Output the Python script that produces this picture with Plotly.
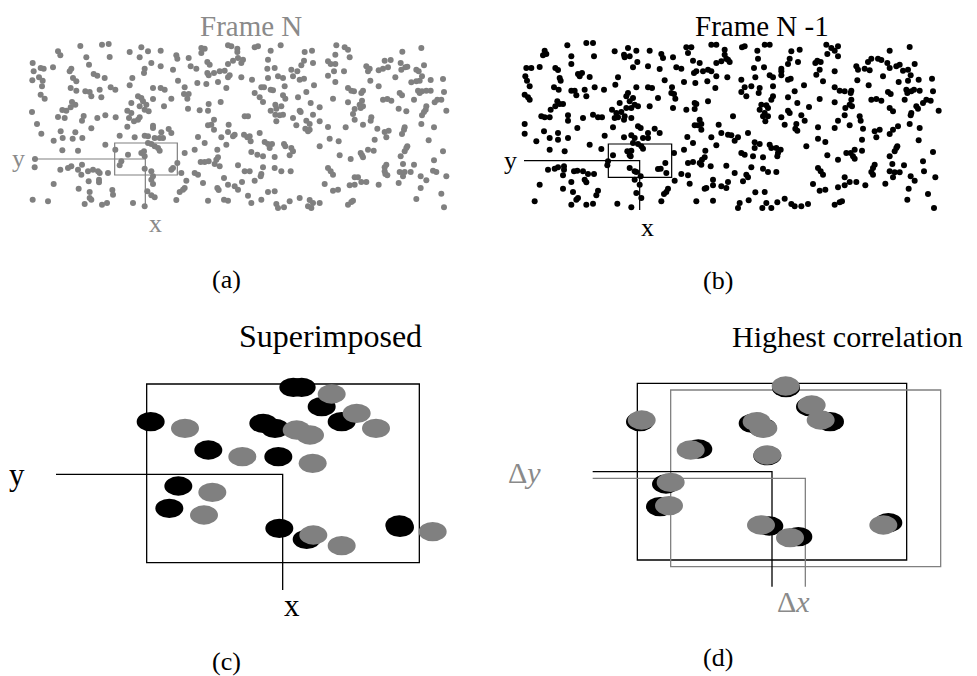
import plotly.graph_objects as go

# page body has an 8px margin; the figure is sized/placed to compensate
PAGE_OFF = 8
W, H = 977, 676
WF, HF = W - PAGE_OFF, H - PAGE_OFF

# ---------------- data: particle positions (frame units, 1 unit = 1/3 px) ----------------
frame_n = [
# strip 0
(157,24),(222,20),(242,18),(90,40),(97,52),(305,42),(175,58),(245,57),(14,75),(183,80),(38,90),(47,92),(17,100),(75,88),
(130,92),(125,100),(197,108),(208,113),(230,120),(33,118),(44,128),(13,127),(135,120),(145,130),(313,120),(42,145),
(128,150),(145,158),(172,160),(185,162),(190,175),(215,155),(248,148),(262,155),(305,142),(38,170),(50,182),(220,178),
(132,192),(142,200),(128,208),(115,218),(310,195),(12,222),(103,216),(298,218),(310,225),(90,237),(110,240),(167,234),
(162,248),(208,240),(232,232),(263,238),(303,240),(318,250),(27,258),(190,271),(298,266),(98,280),(142,283),(40,287),
(104,300),(134,302),(163,300),(77,308),(275,293),(320,298),(232,320),(103,337),(150,338),(262,335),(300,350),(21,363),
(280,370),(275,382),(20,388),(97,395),(120,390),(130,385),(162,380),(150,395),(160,410),(180,400),(195,395),(210,400),
(215,405),(240,405),(182,430),(213,425),(213,433),(77,438),(152,452),(185,462),(253,456),(255,470),(14,485),(60,490),
(185,480),(190,485),(170,498),(222,500),(237,495),(315,495),
# strip 1
(340,28),(360,40),(398,38),(445,52),(448,62),(482,60),(520,30),(530,32),(520,45),(600,22),(610,25),(628,32),(628,42),
(335,58),(370,75),(398,85),(435,95),(350,92),(348,105),(488,85),(505,92),(538,72),(545,80),(600,78),(615,68),(630,60),
(645,65),(640,75),(538,105),(542,112),(558,105),(575,100),(590,98),(605,112),(600,118),(640,118),(450,128),(470,148),
(508,135),(535,138),(570,132),(595,150),(375,150),(398,150),(410,155),(468,168),(482,168),(478,182),(330,175),(340,180),
(345,190),(355,200),(375,183),(430,182),(335,205),(350,215),(362,220),(408,205),(480,212),(515,217),(542,198),(540,218),
(578,192),(650,235),(335,238),(330,245),(375,263),(375,270),(558,245),(550,260),(540,262),(602,260),(558,275),(422,273),
(430,285),(400,283),(350,293),(360,295),(380,300),(395,300),(405,300),(510,297),(580,298),(600,282),(620,290),(615,295),
(648,290),(658,298),(360,315),(370,318),(380,325),(390,330),(395,338),(530,315),(595,320),(348,340),(340,345),(350,355),
(470,345),(500,335),(568,335),(570,358),(565,365),(448,375),(518,372),(530,372),(542,370),(560,378),(575,385),(630,382),
(350,392),(370,400),(435,390),(430,395),(460,405),(500,405),(510,410),(375,415),(370,425),(475,428),(525,435),(588,420),
(650,400),(375,438),(600,440),(620,445),(630,455),(568,450),(572,456),(642,432),(358,460),(370,472),(380,478),(455,462),
(465,455),(470,450),(445,486),(540,488),(588,485),(600,488),(350,505),
# strip 2
(680,28),(690,25),(728,38),(758,22),(720,65),(718,92),(740,90),(830,42),(852,38),(828,68),(855,75),(820,82),(790,95),
(808,100),(925,22),(950,28),(960,35),(965,58),(922,50),(900,70),(908,78),(922,78),(918,100),(948,100),(672,125),(720,120),
(750,115),(765,120),(795,115),(815,125),(828,122),(900,113),(922,132),(700,148),(708,148),(770,145),(858,142),(680,165),
(695,178),(728,155),(735,157),(765,172),(772,182),(810,178),(835,162),(960,150),(978,160),(970,158),(915,182),(960,193),
(980,213),(705,192),(742,200),(760,205),(745,212),(848,195),(875,208),(728,218),(742,230),(755,232),(765,230),(818,222),
(815,218),(855,230),(975,228),(980,245),(795,240),(745,250),(835,248),(845,258),(875,250),(805,262),(832,272),(845,275),
(840,280),(900,267),(953,268),(660,235),(695,285),(665,295),(668,310),(710,312),(720,318),(725,330),(732,318),(768,318),
(772,325),(790,330),(795,340),(785,352),(875,325),(905,302),(932,310),(670,342),(688,350),(705,355),(740,357),(935,352),
(968,363),(705,388),(740,390),(760,400),(788,400),(900,390),(908,400),(915,410),(665,400),(700,408),(698,415),(680,428),
(890,438),(980,418),(965,442),(980,440),(915,458),(930,455),(720,462),(740,460),(660,473),(700,485),(815,480),(845,486),
(855,495),(785,490),(745,498),(670,495),(750,510),(768,508),(840,505),(850,510),(875,495),(960,500),(970,492),(975,488),
# strip 3
(1123,41),(1180,30),(1070,68),(1088,66),(1118,75),(1015,85),(1025,92),(1020,100),(1052,97),(1065,92),(1080,88),(1120,95),
(1132,88),(1138,86),(1188,82),(1165,95),(1172,100),(1182,115),(1102,118),(1027,128),(1052,145),(1150,133),(1165,130),
(1175,128),(1208,126),(1245,123),(1005,158),(1000,165),(1002,188),(1170,158),(1182,160),(1195,158),(1208,158),(1175,165),
(1248,162),(1115,165),(1122,172),(1065,185),(1078,183),(1090,188),(1158,185),(1228,185),(1240,185),(1220,193),(995,200),
(1005,205),(998,210),(1112,212),(1135,220),(1195,205),(1193,215),(1188,222),(1182,232),(1255,218),(1030,238),(1028,248),
(1005,260),(1180,258),(1218,268),(1048,272),(1070,282),(1082,278),(1130,268),(1128,275),(1122,288),(1075,298),(1040,305),
(1202,307),(1138,325),(1135,330),(1130,340),(1020,335),(1037,338),(1002,352),(1005,358),(998,345),(1118,355),(1245,340),
(1218,367),(1075,380),(1070,388),(1125,378),(1158,380),(1070,400),(1072,408),(1078,412),(1115,402),(1130,402),(1148,402),
(1125,415),(1215,398),(1225,402),(1178,415),(1195,427),(1255,415),(1000,432),(1015,432),(1052,440),(1112,435),(1178,450),
(1240,467),(1165,483),(1248,508),(990,418),
]

frame_n_minus_1 = [
# strip 0
(148,22),(205,15),(225,15),(80,38),(85,48),(75,52),(160,55),(228,55),(290,40),(318,50),(320,58),(160,78),(25,90),(40,90),
(65,87),(112,90),(120,96),(22,115),(27,128),(180,108),(192,105),(185,115),(215,117),(125,120),(128,128),(300,118),(35,145),
(108,148),(122,155),(160,158),(170,158),(175,172),(200,155),(205,175),(230,148),(258,155),(292,140),(20,170),(30,178),
(35,185),(325,175),(118,190),(125,198),(112,205),(135,198),(98,215),(305,195),(282,215),(295,225),(310,222),(325,210),
(320,235),(20,258),(70,235),(80,238),(95,238),(150,232),(150,248),(195,240),(225,230),(240,238),(252,238),(290,240),
(300,238),(318,245),(285,268),(178,270),(20,287),(78,280),(120,285),(95,300),(120,305),(150,300),(55,310),(260,293),
(318,298),(215,320),(95,335),(140,340),(250,333),(285,352),(328,340),(270,370),(268,382),(90,395),(110,392),(120,388),
(138,385),(138,395),(168,400),(178,398),(195,400),(210,408),(228,408),(135,412),(200,425),(205,433),(160,432),(65,440),
(135,452),(240,458),(235,472),(165,462),(180,480),(175,485),(50,490),(160,500),(205,500),(225,497),(298,497),
# strip 1
(330,30),(355,38),(395,38),(430,48),(435,60),(465,58),(505,28),(520,28),(510,45),(580,20),(595,20),(620,35),(620,50),
(625,62),(335,55),(358,72),(345,88),(390,85),(425,93),(475,88),(490,92),(525,68),(545,75),(528,105),(535,100),(555,100),
(570,95),(580,100),(595,75),(610,70),(630,65),(635,72),(595,115),(628,118),(440,127),(462,148),(498,132),(532,135),
(568,130),(592,150),(355,148),(390,148),(402,150),(460,165),(468,168),(472,182),(330,165),(345,180),(350,200),(360,205),
(340,210),(335,190),(420,180),(395,205),(465,210),(505,215),(530,213),(530,195),(535,198),(570,190),(645,235),(340,240),
(360,265),(368,270),(410,272),(425,285),(390,285),(545,245),(550,258),(540,262),(530,262),(602,260),(550,275),(340,292),
(350,300),(375,300),(390,300),(345,315),(360,318),(370,325),(375,332),(508,297),(580,298),(610,285),(630,290),(640,292),
(650,308),(525,315),(595,322),(340,338),(335,352),(338,355),(468,345),(498,335),(562,338),(560,358),(552,365),(442,375),
(510,375),(525,372),(545,375),(550,380),(578,385),(625,383),(335,390),(350,400),(355,402),(420,393),(428,392),(445,405),
(368,415),(490,408),(510,412),(350,425),(470,428),(515,437),(585,425),(650,405),(365,440),(560,452),(565,450),(585,442),
(610,445),(625,450),(630,432),(355,465),(370,480),(450,452),(445,462),(438,468),(430,490),(535,490),(585,488),(340,508),
# strip 2
(672,28),(680,25),(718,38),(740,20),(755,20),(820,40),(845,35),(815,62),(810,78),(840,72),(720,62),(708,90),(738,88),
(790,92),(790,100),(755,112),(765,118),(790,112),(810,125),(818,122),(925,20),(940,30),(960,25),(950,38),(928,48),
(960,55),(898,68),(908,72),(892,75),(905,95),(950,100),(895,110),(915,130),(670,125),(712,118),(680,148),(700,145),
(725,150),(722,165),(765,145),(858,142),(670,162),(685,175),(765,175),(760,185),(830,160),(810,178),(950,148),(965,158),
(980,160),(905,183),(950,193),(982,210),(838,195),(730,200),(745,202),(750,210),(725,215),(873,207),(740,225),(735,235),
(750,235),(810,218),(815,225),(790,238),(850,232),(980,232),(742,250),(860,248),(960,248),(800,260),(835,258),(832,272),
(838,278),(900,268),(950,270),(690,285),(660,298),(710,313),(725,318),(710,330),(755,320),(760,330),(775,330),(788,335),
(780,345),(778,355),(865,325),(900,302),(922,312),(670,345),(680,350),(705,355),(735,358),(928,352),(960,365),(985,345),
(700,388),(735,392),(750,402),(775,402),(900,390),(908,400),(915,410),(685,410),(690,418),(675,430),(885,438),(980,418),
(960,448),(980,442),(905,458),(922,455),(712,463),(740,462),(692,487),(800,482),(665,495),(745,495),(778,493),(820,498),
(830,505),(850,505),(870,498),(733,510),(760,510),(950,500),(965,493),(972,490),(660,510),
# strip 3
(1115,38),(1175,27),(1060,62),(1080,62),(1090,66),(1050,72),(1015,85),(1020,95),(1040,92),(1055,97),(1108,75),(1115,90),
(1135,85),(1145,80),(1190,78),(1155,98),(1170,95),(1178,112),(1095,115),(1018,127),(1052,142),(1142,132),(1170,128),
(1202,125),(1242,122),(1000,158),(998,165),(1000,185),(1165,155),(1180,160),(1188,155),(1205,158),(1168,165),(1245,160),
(1110,162),(1118,168),(1060,185),(1075,183),(1090,188),(1160,185),(1225,185),(1238,188),(1215,195),(995,200),(1002,205),
(1115,210),(1125,220),(1195,205),(1200,212),(1180,225),(1178,232),(1262,218),(1025,235),(1028,248),(995,262),(1175,258),
(1205,270),(1035,272),(1070,280),(1085,275),(1140,265),(1125,275),(1115,288),(1075,298),(1032,305),(1202,307),(1138,325),
(1135,330),(1130,340),(1010,335),(1032,338),(998,345),(1005,355),(1010,362),(1115,355),(1245,342),(1215,370),(1070,380),
(1065,390),(1123,378),(1158,382),(1060,402),(1065,410),(1115,400),(1130,403),(1145,403),(1125,418),(1218,400),(1178,415),
(1190,428),(1252,418),(995,432),(1015,432),(1042,442),(1102,437),(1172,452),(1230,468),(1168,485),(1248,510),
]

# interrogation windows and cross-hair guides in frame units
window_a = (260, 448, 315, 411)
cross_a = (12, 352, 363, 504)        # x_start, x_corner, y_line, y_end
window_b = (271, 461, 318, 418)
cross_b = (18, 365, 368, 516)

# zoomed windows (c) superimposed, (d) highest correlation
c_black = [(880,442),(905,442),(965,500),(1025,545),(452,545),(790,550),(825,565),(625,630),(835,650),
           (535,738),(508,805),(838,865),(920,898),(1198,855),(1200,862)]
c_gray = [(995,462),(1070,520),(555,565),(890,570),(930,585),(1128,565),(727,650),(938,670),(637,757),
          (612,825),(940,885),(1025,917),(1298,875)]
d_black = [(918,443),(990,500),(1050,545),(480,545),(818,550),(848,563),(655,627),(862,647),(558,732),
           (540,800),(868,858),(955,890),(1225,848)]
d_gray = [(917,438),(995,495),(1022,540),(485,540),(830,545),(850,565),(632,630),(862,645),(572,727),
          (567,797),(843,855),(930,893),(1210,855)]
window_c = (440, 1258, 432, 968)
cross_c = (168, 848, 703, 1050)
window_d_black = (472, 1280, 430, 960)
window_d_gray = (572, 1382, 450, 980)
cross_d_black = (338, 876, 695, 1040)
cross_d_gray = (338, 976, 715, 1040)

# ---------------- styling ----------------
GRAY = "#808080"
LGRAY = "#8a8a8a"
BLACK = "#000000"
FONT = "Liberation Serif"
RX, RY = 42, 29
UNIT = 3  # frame units per screen pixel

fig = go.Figure()

def P(x, y):
    return (x - PAGE_OFF) / WF, 1 - (y - PAGE_OFF) / HF

def panel_axes(ox, oy, x0, x1, y0, y1, name):
    """Axis pair whose frame origin sits at screen px (ox, oy), covering box x0..x1, y0..y1."""
    xa = dict(domain=[(x0 - PAGE_OFF) / WF, (x1 - PAGE_OFF) / WF],
              range=[(x0 - ox) * UNIT, (x1 - ox) * UNIT],
              visible=False, showgrid=False, zeroline=False, fixedrange=True, anchor="y" + name)
    ya = dict(domain=[1 - (y1 - PAGE_OFF) / HF, 1 - (y0 - PAGE_OFF) / HF],
              range=[(y1 - oy) * UNIT, (y0 - oy) * UNIT],
              visible=False, showgrid=False, zeroline=False, fixedrange=True, anchor="x" + name)
    return xa, ya

xa1, ya1 = panel_axes(28, 38, 28, 468, 38, 213, "")
xa2, ya2 = panel_axes(518, 38, 518, 960, 38, 213, "2")
xa3, ya3 = panel_axes(0, 240, PAGE_OFF, 480, 240, H, "3")
xa4, ya4 = panel_axes(480, 240, 480, W, 240, H, "4")

fig.add_trace(go.Scatter(x=[p[0] for p in frame_n], y=[p[1] for p in frame_n], mode="markers",
                         marker=dict(size=6, color=GRAY, line=dict(width=0)), xaxis="x", yaxis="y",
                         hoverinfo="skip"))
fig.add_trace(go.Scatter(x=[p[0] for p in frame_n_minus_1], y=[p[1] for p in frame_n_minus_1], mode="markers",
                         marker=dict(size=6, color=BLACK, line=dict(width=0)), xaxis="x2", yaxis="y2",
                         hoverinfo="skip"))

shapes = []

def rect(win, ax, color, width=1.3):
    shapes.append(dict(type="rect", xref=ax[0], yref=ax[1], x0=win[0], x1=win[1], y0=win[2], y1=win[3],
                       line=dict(color=color, width=width), fillcolor="rgba(0,0,0,0)"))

def cross(cr, ax, color, width=1.3):
    shapes.append(dict(type="path", xref=ax[0], yref=ax[1],
                       path=f"M {cr[0]},{cr[2]} L {cr[1]},{cr[2]} L {cr[1]},{cr[3]}",
                       line=dict(color=color, width=width)))

def ellipses(pts, ax, color):
    for cx, cy in pts:
        shapes.append(dict(type="circle", xref=ax[0], yref=ax[1], x0=cx - RX, x1=cx + RX, y0=cy - RY, y1=cy + RY,
                           line=dict(width=0), fillcolor=color))

rect(window_a, ("x", "y"), GRAY, 1.2)
cross(cross_a, ("x", "y"), GRAY, 1.2)
rect(window_b, ("x2", "y2"), BLACK, 1.2)
cross(cross_b, ("x2", "y2"), BLACK, 1.2)

rect(window_c, ("x3", "y3"), BLACK)
cross(cross_c, ("x3", "y3"), BLACK)
ellipses(c_black, ("x3", "y3"), BLACK)
ellipses(c_gray, ("x3", "y3"), GRAY)

rect(window_d_black, ("x4", "y4"), BLACK)
rect(window_d_gray, ("x4", "y4"), GRAY)
cross(cross_d_black, ("x4", "y4"), BLACK)
cross(cross_d_gray, ("x4", "y4"), GRAY)
ellipses(d_black, ("x4", "y4"), BLACK)
ellipses(d_gray, ("x4", "y4"), GRAY)

ann = []
def text(t, x, y, size, color=BLACK):
    px, py = P(x, y)
    ann.append(dict(text=t, x=px, y=py, xref="paper", yref="paper", xanchor="center", yanchor="middle",
                    showarrow=False, font=dict(family=FONT, size=size, color=color)))

text("Frame N", 251, 26, 29, LGRAY)
text("Frame N -1", 762, 26, 29, BLACK)
text("y", 18, 158, 26, LGRAY)
text("x", 155, 223, 26, LGRAY)
text("y", 510, 160, 26, BLACK)
text("x", 647, 227, 26, BLACK)
text("(a)", 226, 279, 26)
text("(b)", 718, 280, 26)
text("Superimposed", 330, 336, 32)
text("Highest correlation", 847, 336, 30)
text("y", 17, 474, 31)
text("x", 292, 605, 31)
text("Δ<i>y</i>", 524, 472, 30, LGRAY)
text("Δ<i>x</i>", 793, 601, 30, LGRAY)
text("(c)", 226, 661, 26)
text("(d)", 718, 657, 26)

fig.update_layout(
    width=WF, height=HF, margin=dict(l=0, r=0, t=0, b=0),
    paper_bgcolor="white", plot_bgcolor="white", showlegend=False,
    xaxis=xa1, yaxis=ya1, xaxis2=xa2, yaxis2=ya2,
    xaxis3=xa3, yaxis3=ya3, xaxis4=xa4, yaxis4=ya4,
    shapes=shapes, annotations=ann,
)

fig.write_html("out.html")
